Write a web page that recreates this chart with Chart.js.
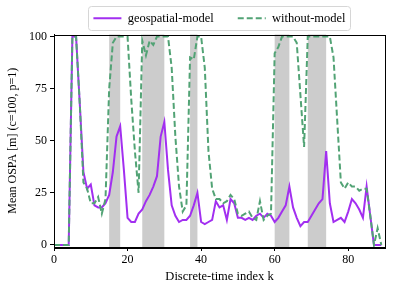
<!DOCTYPE html>
<html>
<head>
<meta charset="utf-8">
<script src="https://cdn.jsdelivr.net/npm/chart.js@4/dist/chart.umd.min.js"></script>
<style>
  html, body { margin: 0; padding: 0; background: #fff; }
  #wrap { width: 399px; height: 293px; }
</style>
</head>
<body>
<div id="wrap"><canvas id="chart"></canvas></div>
<script>
// discrete-time index k = 0..89
const steps = Array.from({ length: 90 }, (_, i) => i);

const geospatial = [
  0, 0, 0, 0, 0, 100, 100, 68, 35, 27,
  29, 19, 18, 18, 20, 24, 35, 52, 57, 36,
  13, 11, 11, 15, 17, 21, 24, 28, 33, 52,
  59, 36, 19, 14, 11, 12, 12, 14, 19, 25,
  11, 10, 11, 12, 21, 18, 19, 12, 22, 20,
  13, 13, 12, 13, 12, 14, 15, 13, 15, 14,
  11, 13, 16, 19, 28, 18, 13, 9, 11, 11,
  14, 17, 20, 22, 45, 20, 11, 12, 13, 11,
  16, 22, 20, 17, 13, 28, 14, 0, 0, 0
];

const withoutModel = [
  0, 0, 0, 0, 0, 100, 100, 68, 30, 27,
  20, 20, 23, 15, 22, 75, 97, 100, 100, 100,
  100, 70, 45, 25, 98, 91, 98, 96, 100, 100,
  100, 100, 85, 52, 28, 16, 19, 90, 89, 100,
  100, 85, 45, 27, 22, 22, 20, 21, 24, 22,
  15, 14, 15, 16, 13, 12, 21, 12, 14, 15,
  92, 95, 100, 100, 100, 100, 97, 72, 47, 100,
  100, 100, 100, 100, 100, 100, 90, 60, 30, 27,
  30, 28, 28, 26, 27, 27, 14, 0, 8, 0
];

// grey bands
const shadeStart = [15, 24, 37, 60, 69];
const shadeEnd = [18, 30, 39, 64, 74];

const xTicks = [0, 20, 40, 60, 80];
const yTicks = [0, 25, 50, 75, 100];

const serif = "'Liberation Serif', 'DejaVu Serif', serif";

const shadePlugin = {
  id: "shade",
  beforeDatasetsDraw(chart) {
    const { ctx, chartArea, scales } = chart;
    ctx.save();
    ctx.fillStyle = "#cccccc";
    for (let i = 0; i < shadeStart.length; i++) {
      const x1 = scales.x.getPixelForValue(shadeStart[i]);
      const x2 = scales.x.getPixelForValue(shadeEnd[i]);
      ctx.fillRect(x1, chartArea.top, x2 - x1, chartArea.bottom - chartArea.top);
    }
    ctx.restore();
  }
};

const framePlugin = {
  id: "frame",
  afterDraw(chart) {
    const { ctx, chartArea } = chart;
    ctx.save();
    ctx.strokeStyle = "#000";
    ctx.lineWidth = 1;
    ctx.strokeRect(Math.round(chartArea.left) + 0.5, Math.round(chartArea.top) + 0.5,
      Math.round(chartArea.right - chartArea.left), Math.round(chartArea.bottom - chartArea.top));
    // legend box round the items
    const boxes = chart.legend.legendHitBoxes;
    if (boxes && boxes.length) {
      const l = Math.min(...boxes.map(b => b.left)) - 5;
      const r = Math.max(...boxes.map(b => b.left + b.width)) + 5;
      const cy = boxes[0].top + boxes[0].height / 2;
      ctx.strokeStyle = "#d6d6d6";
      ctx.beginPath();
      ctx.roundRect(Math.round(l) + 0.5, Math.round(cy - 12) + 0.5, Math.round(r - l), 24, 3);
      ctx.stroke();
    }
    ctx.restore();
  }
};

new Chart(document.getElementById("chart"), {
  type: "line",
  data: {
    labels: steps,
    datasets: [
      {
        label: "geospatial-model",
        data: geospatial,
        borderColor: "#a22ff0",
        borderWidth: 2,
        pointRadius: 0,
        pointStyle: "line",
        tension: 0,
        order: 1
      },
      {
        label: "without-model",
        data: withoutModel,
        borderColor: "#52a375",
        borderWidth: 2,
        borderDash: [6, 3],
        pointRadius: 0,
        pointStyle: "line",
        tension: 0,
        order: 0
      }
    ]
  },
  options: {
    responsive: true,
    maintainAspectRatio: false,
    animation: false,
    layout: { padding: { left: 0, right: 14, top: -12, bottom: 0 } },
    plugins: {
      tooltip: { enabled: false },
      legend: {
        position: "top",
        fullSize: false,
        labels: {
          usePointStyle: true,
          pointStyleWidth: 28,
          boxWidth: 28,
          boxHeight: 8,
          padding: 24,
          color: "#000",
          font: { family: serif, size: 12.5 },
          sort: (a, b) => a.datasetIndex - b.datasetIndex,
          generateLabels(chart) {
            const items = Chart.defaults.plugins.legend.labels.generateLabels(chart);
            items.forEach(item => {
              const ds = chart.data.datasets[item.datasetIndex];
              item.strokeStyle = ds.borderColor;
              item.lineWidth = 2;
              item.lineDash = ds.borderDash || [];
            });
            return items;
          }
        }
      }
    },
    scales: {
      x: {
        type: "linear",
        min: 0,
        max: 90,
        afterBuildTicks(scale) { scale.ticks = xTicks.map(v => ({ value: v })); },
        afterFit(scale) { scale.height = 46; },
        ticks: { color: "#000", font: { family: serif, size: 12 }, padding: 2, maxRotation: 0 },
        grid: { drawOnChartArea: false, drawTicks: true, tickLength: 4, color: "#000" },
        border: { display: true, color: "#000" },
        title: { display: true, text: "Discrete-time index k", color: "#000", font: { family: serif, size: 12.5 }, padding: { top: 0, bottom: 9 } }
      },
      y: {
        min: -1,
        max: 101,
        afterBuildTicks(scale) { scale.ticks = yTicks.map(v => ({ value: v })); },
        afterFit(scale) { scale.width = 54; },
        ticks: { color: "#000", font: { family: serif, size: 12 }, padding: 3 },
        grid: { drawOnChartArea: false, drawTicks: true, tickLength: 4, color: "#000" },
        border: { display: true, color: "#000" },
        title: { display: true, text: "Mean OSPA [m] (c=100, p=1)", color: "#000", font: { family: serif, size: 12 }, padding: { top: 6, bottom: 0 } }
      }
    }
  },
  plugins: [shadePlugin, framePlugin]
});
</script>
</body>
</html>
